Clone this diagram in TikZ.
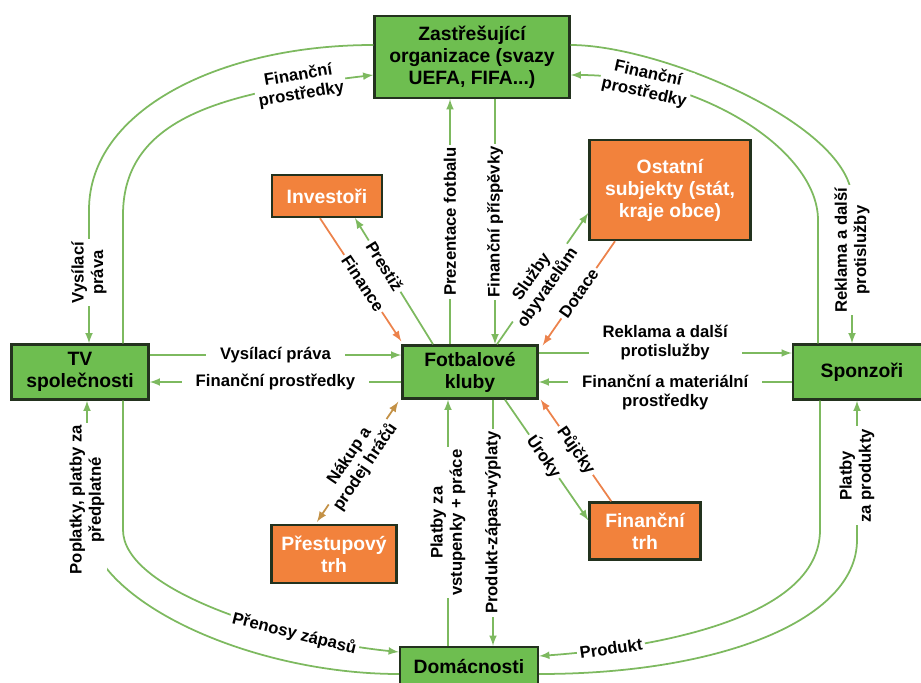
\documentclass[tikz,border=0pt]{standalone}
\usepackage{fontspec}
\setmainfont{Liberation Sans}
\usepackage{tikz}
\usetikzlibrary{arrows}
\usetikzlibrary{calc}

\definecolor{boxgreen}{RGB}{110,190,80}
\definecolor{boxorange}{RGB}{242,130,60}
\definecolor{boxedge}{RGB}{35,50,30}
\definecolor{lingreen}{RGB}{125,185,95}
\definecolor{linorange}{RGB}{236,130,75}
\definecolor{linolive}{RGB}{195,145,70}

\begin{document}
\begin{tikzpicture}[x=0.02cm, y=-0.02cm, >=latex,
    box/.style={draw=boxedge, line width=1.4pt, align=center, inner sep=2pt,
        font=\fontsize{11}{12.5}\selectfont\bfseries},
    gbox/.style={box, fill=boxgreen, text=black},
    obox/.style={box, fill=boxorange, text=white},
    flow/.style={draw=lingreen, line width=1pt},
    oflow/.style={draw=linorange, line width=1pt},
    olflow/.style={draw=linolive, line width=1pt},
    lab/.style={fill=white, inner sep=1.5pt, align=center,
        font=\fontsize{9.5}{11}\selectfont\bfseries},
    hlab/.style={lab, inner xsep=8pt}]
    \useasboundingbox (0,0) rectangle (921,683);

    \node[gbox, minimum width=3.9cm, minimum height=1.64cm] (zast) at (472,57) {Zastřešující\\organizace (svazy\\UEFA, FIFA...)};
    \node[gbox, minimum width=2.74cm, minimum height=1.1cm] (tv) at (80,372) {TV\\společnosti};
    \node[gbox, minimum width=2.7cm, minimum height=1.06cm] (klub) at (470,372) {Fotbalové\\kluby};
    \node[gbox, minimum width=2.76cm, minimum height=1.1cm] (sponz) at (862,372) {Sponzoři};
    \node[gbox, minimum width=2.76cm, minimum height=0.8cm] (dom) at (469,667) {Domácnosti};
    \node[obox, minimum width=2.2cm, minimum height=0.84cm] (inv) at (327,196) {Investoři};
    \node[obox, minimum width=3.22cm, minimum height=2cm] (ost) at (670,190) {Ostatní\\subjekty (stát,\\kraje obce)};
    \node[obox, minimum width=2.5cm, minimum height=1.16cm] (prest) at (334,554) {Přestupový\\trh};
    \node[obox, minimum width=2.22cm, minimum height=1.14cm] (fin) at (645,531) {Finanční\\trh};

    \draw[flow,->] ($(klub.north)+(-20,0)$) -- node[lab,rotate=90]{Prezentace fotbalu} ($(zast.south)+(-22,0)$);
    \draw[flow,->] ($(zast.south)+(23,0)$) -- node[lab,rotate=90]{Finanční příspěvky} ($(klub.north)+(25,0)$);

    \draw[oflow,->] ($(inv.south)+(-7,0)$) -- node[lab,sloped,pos=.53]{Finance} ($(klub.north west)+(0,-3)$);
    \draw[flow,->] ($(klub.north)+(-37,0)$) -- node[lab,sloped,pos=.62]{Prestiž} ($(inv.south)+(28,0)$);

    \draw[flow,->] ($(klub.north)+(27,0)$) -- node[lab,sloped,pos=.47,inner sep=.5pt]{Služby\\obyvatelům} ($(ost.west)+(0,23)$);
    \draw[oflow,->] ($(ost.south)+(-55,0)$) -- node[lab,sloped]{Dotace} ($(klub.north east)+(4,1)$);

    \draw[flow,->] ($(tv.east)+(0,-17)$) -- node[hlab]{Vysílací práva} ($(klub.west)+(0,-17)$);
    \draw[flow,->] ($(klub.west)+(0,10)$) -- node[hlab]{Finanční prostředky} ($(tv.east)+(0,10)$);

    \draw[flow,->] ($(klub.east)+(0,-19)$) -- node[hlab,yshift=6pt]{Reklama a další\\protislužby} ($(sponz.west)+(0,-19)$);
    \draw[flow,->] ($(sponz.west)+(0,10)$) -- node[hlab,yshift=-6pt]{Finanční a materiální\\prostředky} ($(klub.east)+(0,10)$);

    \draw[flow,->] ($(klub.south)+(35,0)$) -- node[lab,sloped,pos=.47]{Úroky} ($(fin.north west)+(0,19)$);
    \draw[oflow,->] ($(fin.north west)+(23,0)$) -- node[lab,sloped]{Půjčky} ($(klub.south east)+(2,0)$);

    \draw[olflow,<->] ($(klub.south west)+(-3,2)$) -- node[lab,sloped,inner sep=.5pt]{Nákup a\\prodej hráčů} ($(prest.north)+(-17,-2)$);

    \draw[flow,->] ($(dom.north)+(-21,0)$) -- node[lab,rotate=90]{Platby za\\vstupenky + práce} ($(klub.south)+(-22,0)$);
    \draw[flow,->] ($(klub.south)+(23,0)$) -- node[lab,rotate=90]{Produkt-zápas+výplaty} ($(dom.north)+(24,0)$);

    \draw[flow,->] ($(zast.west)+(0,-12)$) .. controls (220,45) and (89,110) .. (89,210) -- node[lab,rotate=90,pos=.47]{Vysílací\\práva} ($(tv.north)+(9,0)$);
    \draw[flow,->] ($(tv.north)+(43,0)$) -- (123,215) .. controls (123,115) and (230,92) .. ($(zast.west)+(0,18)$) node[lab,sloped,pos=.82]{Finanční\\prostředky};

    \draw[flow,->] ($(zast.east)+(0,-12)$) .. controls (660,45) and (852,125) .. (852,200) -- node[lab,rotate=90,pos=.35]{Reklama a další\\protislužby} ($(sponz.north)+(-10,0)$);
    \draw[flow,->] ($(sponz.north)+(-44,0)$) -- (818,220) .. controls (818,150) and (700,75) .. ($(zast.east)+(0,18)$) node[lab,sloped,pos=.8]{Finanční\\prostředky};

    \draw[flow,->] ($(dom.west)+(0,7)$) .. controls (250,674) and (87,600) .. (87,520) -- node[lab,rotate=90,pos=.17]{Poplatky, platby za\\předplatné} ($(tv.south)+(7,0)$);
    \draw[flow,->] ($(tv.south)+(43,0)$) -- (123,530) .. controls (123,590) and (280,640) .. ($(dom.west)+(0,-15)$) node[lab,sloped,pos=.72]{Přenosy zápasů};

    \draw[flow,->] ($(sponz.south)+(-42,0)$) -- (820,530) .. controls (820,620) and (650,648) .. ($(dom.east)+(0,-11)$) node[lab,sloped,pos=.8]{Produkt};
    \draw[flow,->] ($(dom.east)+(0,7)$) .. controls (720,674) and (857,620) .. (857,540) -- node[lab,rotate=90,pos=.46]{Platby\\za produkty} ($(sponz.south)+(-5,0)$);
\end{tikzpicture}
\end{document}
